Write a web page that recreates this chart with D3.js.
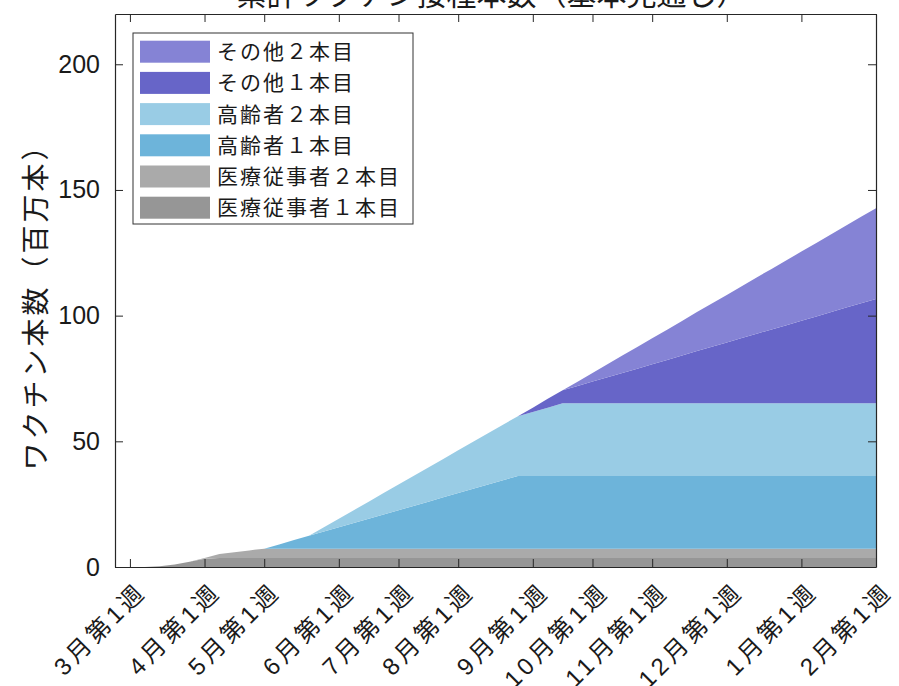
<!DOCTYPE html>
<html>
<head>
<meta charset="utf-8">
<script src="https://cdn.jsdelivr.net/npm/d3@7"></script>
<style>
  html, body { margin: 0; padding: 0; background: #ffffff; }
  svg { display: block; }
</style>
</head>
<body>
<svg id="chart" width="899" height="686"></svg>
<script>
// ---- data (millions of doses, cumulative, by week index from 3月第1週) ----
const weeks = [0,1,2,3,4,5,6,7,8,9,10,11,12,13,14,15,16,17,18,19,20,21,22,23,24,25,26,27,28,29,30,31,32,33,34,35,36,37,38,39,40,41,42,43,44,45,46,47,48,49,50];

const medical1 = [0,0,0.3,1.0,2.1,3.3,3.6,3.6,3.6,3.6,
  3.6,3.6,3.6,3.6,3.6,3.6,3.6,3.6,3.6,3.6,
  3.6,3.6,3.6,3.6,3.6,3.6,3.6,3.6,3.6,3.6,
  3.6,3.6,3.6,3.6,3.6,3.6,3.6,3.6,3.6,3.6,
  3.6,3.6,3.6,3.6,3.6,3.6,3.6,3.6,3.6,3.6,
  3.6];
const medical2 = [0,0,0,0,0,0.3,1.6,2.3,3.0,3.7,
  3.7,3.7,3.7,3.7,3.7,3.7,3.7,3.7,3.7,3.7,
  3.7,3.7,3.7,3.7,3.7,3.7,3.7,3.7,3.7,3.7,
  3.7,3.7,3.7,3.7,3.7,3.7,3.7,3.7,3.7,3.7,
  3.7,3.7,3.7,3.7,3.7,3.7,3.7,3.7,3.7,3.7,
  3.7];
const elderly1 = [0,0,0,0,0,0,0,0,0,0,
  1.7,3.4,5.1,6.8,8.5,10.2,11.9,13.6,15.3,17.0,
  18.7,20.4,22.1,23.8,25.5,27.2,28.9,28.9,28.9,28.9,
  28.9,28.9,28.9,28.9,28.9,28.9,28.9,28.9,28.9,28.9,
  28.9,28.9,28.9,28.9,28.9,28.9,28.9,28.9,28.9,28.9,
  28.9];
const elderly2 = [0,0,0,0,0,0,0,0,0,0,
  0,0,0,1.7,3.4,5.1,6.8,8.5,10.2,11.9,
  13.6,15.3,17.0,18.7,20.4,22.1,23.8,25.5,27.2,28.9,
  28.9,28.9,28.9,28.9,28.9,28.9,28.9,28.9,28.9,28.9,
  28.9,28.9,28.9,28.9,28.9,28.9,28.9,28.9,28.9,28.9,
  28.9];
const others1 = [0,0,0,0,0,0,0,0,0,0,
  0,0,0,0,0,0,0,0,0,0,
  0,0,0,0,0,0,0,1.7,3.5,5.2,
  6.9,8.7,10.4,12.1,13.8,15.6,17.3,19.0,20.8,22.5,
  24.2,26.0,27.7,29.4,31.1,32.9,34.6,36.3,38.1,39.8,
  41.5];
const others2 = [0,0,0,0,0,0,0,0,0,0,
  0,0,0,0,0,0,0,0,0,0,
  0,0,0,0,0,0,0,0,0,0,
  1.7,3.4,5.2,6.9,8.6,10.3,12.0,13.8,15.5,17.2,
  18.9,20.6,22.4,24.1,25.8,27.5,29.2,31.0,32.7,34.4,
  36.1];

const seriesKeys = ["medical1","medical2","elderly1","elderly2","others1","others2"];
const seriesNames = ["医療従事者１本目","医療従事者２本目","高齢者１本目","高齢者２本目","その他１本目","その他２本目"];
const seriesColors = ["#969696","#aaaaaa","#6db4da","#99cce5","#6765c8","#8583d5"];

const xTickWeeks = [0,5,9,14,18,22,27,31,35,40,45,50];
const xTickLabels = ["3月第1週","4月第1週","5月第1週","6月第1週","7月第1週","8月第1週","9月第1週","10月第1週","11月第1週","12月第1週","1月第1週","2月第1週"];
const yTicks = [0,50,100,150,200];

const titleText = "累計ワクチン接種本数（基本見通し）";
const yLabelText = "ワクチン本数（百万本）";

// ---- layout ----
const plotLeft = 115, plotRight = 876, plotTop = 14, plotBottom = 567;
const svg = d3.select("#chart");

const x = d3.scaleLinear().domain([-1, 50]).range([plotLeft, plotRight]);
const y = d3.scaleLinear().domain([0, 220]).range([plotBottom, plotTop]);

const rows = weeks.map((w, i) => ({
  week: w,
  medical1: medical1[i], medical2: medical2[i],
  elderly1: elderly1[i], elderly2: elderly2[i],
  others1: others1[i], others2: others2[i]
}));
const stacked = d3.stack().keys(seriesKeys)(rows);

const area = d3.area()
  .x(d => x(d.data.week))
  .y0(d => y(d[0]))
  .y1(d => y(d[1]));

svg.append("g").selectAll("path")
  .data(stacked)
  .join("path")
  .attr("d", area)
  .attr("fill", (d, i) => seriesColors[i])
  .attr("stroke", "none");

// ---- axes (box style, inward ticks on all sides) ----
const axisColor = "#262626";
const tickLen = 8;
const tickFont = "'Liberation Sans', Arial, 'Noto Sans CJK JP', sans-serif";

const gx = svg.append("g").attr("transform", `translate(0,${plotBottom})`)
  .call(d3.axisBottom(x).tickValues(xTickWeeks).tickSizeInner(-tickLen).tickSizeOuter(0).tickFormat(""));
const gxTop = svg.append("g").attr("transform", `translate(0,${plotTop})`)
  .call(d3.axisTop(x).tickValues(xTickWeeks).tickSizeInner(-tickLen).tickSizeOuter(0).tickFormat(""));
const gy = svg.append("g").attr("transform", `translate(${plotLeft},0)`)
  .call(d3.axisLeft(y).tickValues(yTicks).tickSizeInner(-tickLen).tickSizeOuter(0).tickPadding(15));
const gyRight = svg.append("g").attr("transform", `translate(${plotRight},0)`)
  .call(d3.axisRight(y).tickValues(yTicks).tickSizeInner(-tickLen).tickSizeOuter(0).tickFormat(""));

[gx, gxTop, gy, gyRight].forEach(g => {
  g.selectAll(".domain").attr("stroke", axisColor).attr("stroke-width", 1.2);
  g.selectAll(".tick line").attr("stroke", axisColor).attr("stroke-width", 1);
});
gy.attr("font-size", null).attr("font-family", null);
gy.selectAll(".tick text")
  .style("font-family", tickFont)
  .style("font-size", "25px")
  .attr("fill", "#1a1a1a");

// rotated x tick labels
svg.append("g").selectAll("text")
  .data(xTickWeeks)
  .join("text")
  .attr("transform", (d) => `translate(${x(d) + 12},${plotBottom + 20}) rotate(-45)`)
  .attr("text-anchor", "end")
  .attr("dy", "0.35em")
  .style("font-family", tickFont)
  .style("font-size", "24px")
  .style("letter-spacing", "4px")
  .attr("fill", "#1a1a1a")
  .text((d, i) => xTickLabels[i]);

// ---- title (partly cut at the top) ----
svg.append("text")
  .attr("x", (plotLeft + plotRight) / 2 - 4)
  .attr("y", 5)
  .attr("text-anchor", "middle")
  .style("font-family", "'Noto Sans CJK JP', sans-serif")
  .style("font-size", "30px")
  .attr("fill", "#1a1a1a")
  .text(titleText);

// ---- y axis label ----
svg.append("text")
  .attr("transform", `translate(36,300) rotate(-90)`)
  .attr("text-anchor", "middle")
  .attr("dy", "0.35em")
  .style("font-family", "'Noto Sans CJK JP', sans-serif")
  .style("font-size", "28px")
  .style("letter-spacing", "3px")
  .attr("fill", "#1a1a1a")
  .text(yLabelText);

// ---- legend ----
const legX = 133, legY = 33, legW = 280, legH = 191;
const legend = svg.append("g");
legend.append("rect")
  .attr("x", legX).attr("y", legY).attr("width", legW).attr("height", legH)
  .attr("fill", "#ffffff").attr("stroke", "#333333").attr("stroke-width", 1);

const legendOrder = d3.range(seriesKeys.length).reverse();
const rowStep = 31.2, firstRow = 51.7;
legendOrder.forEach((si, r) => {
  const cy = firstRow + r * rowStep;
  legend.append("rect")
    .attr("x", 140).attr("y", cy - 11).attr("width", 70).attr("height", 22)
    .attr("fill", seriesColors[si]);
  legend.append("text")
    .attr("x", 217).attr("y", cy).attr("dy", "0.36em")
    .style("font-family", "'Noto Sans CJK JP', sans-serif")
    .style("font-size", "21px")
    .style("letter-spacing", "2px")
    .attr("fill", "#1a1a1a")
    .text(seriesNames[si]);
});
</script>
</body>
</html>
